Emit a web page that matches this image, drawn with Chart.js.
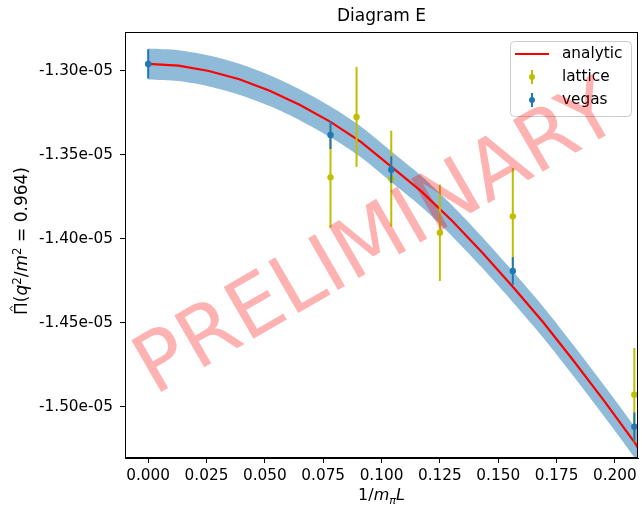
<!DOCTYPE html>
<html lang="en">
<head>
<meta charset="UTF-8">
<title>Diagram E</title>
<script src="https://cdn.jsdelivr.net/npm/chart.js@4.4.0/dist/chart.umd.min.js"></script>
<style>
	html, body { margin: 0; padding: 0; background: #fff; }
	#chart { display: block; }
</style>
</head>
<body>
	<canvas id="chart" width="642" height="507"></canvas>

	<script>
		// analytic curve (red) + its uncertainty band
		var analyticX = [0, 0.01302, 0.02604, 0.03906, 0.05208, 0.06510, 0.07813, 0.09115, 0.10417,
			0.11719, 0.13021, 0.14323, 0.15625, 0.16927, 0.18229, 0.19531, 0.20833, 0.22135];
		var analyticY = [-1.2960e-5, -1.2970e-5, -1.3002e-5, -1.3051e-5, -1.3119e-5, -1.3204e-5,
			-1.3305e-5, -1.3424e-5, -1.3571e-5, -1.3720e-5, -1.3893e-5, -1.4083e-5, -1.4286e-5,
			-1.4497e-5, -1.4726e-5, -1.4964e-5, -1.5210e-5, -1.5500e-5];
		var bandHalfWidth = 9.2e-8;

		// lattice points
		var latticeX = [0.078125, 0.089286, 0.104167, 0.125, 0.15625, 0.208333];
		var latticeY = [-1.3635e-5, -1.3276e-5, -1.3643e-5, -1.3964e-5, -1.3867e-5, -1.4929e-5];
		var latticeErr = [2.98e-7, 2.98e-7, 2.85e-7, 2.87e-7, 2.88e-7, 2.78e-7];

		// vegas points
		var vegasX = [0, 0.078125, 0.104167, 0.15625, 0.208333];
		var vegasY = [-1.2960e-5, -1.3383e-5, -1.3589e-5, -1.4192e-5, -1.5119e-5];
		var vegasErr = [8.7e-8, 8.3e-8, 8.0e-8, 8.2e-8, 8.5e-8];

		// axes
		var xTicks = [0, 0.025, 0.05, 0.075, 0.1, 0.125, 0.15, 0.175, 0.2];
		var yTicks = [-1.30e-5, -1.35e-5, -1.40e-5, -1.45e-5, -1.50e-5];
		var xMin = -0.00993, xMax = 0.2099;
		var yMin = -1.5305e-5, yMax = -1.2770e-5;

		var FONT = '"DejaVu Sans", sans-serif';
		var BLUE = '#1f77b4', YELLOW = '#bfbf00';

		function pts(xs, ys) {
			return xs.map(function(x, i) { return { x: x, y: ys[i] }; });
		}

		function fmtE(v) {
			// -1.3e-5 -> -1.30e-05 like matplotlib
			return v.toExponential(2).replace(/e([+-])(\d)$/, 'e$10$2');
		}

		// text with italics / super / subscripts, centered at (x, y)
		function drawRich(ctx, parts, x, y, size) {
			var total = 0;
			parts.forEach(function(p) {
				var s = (p.sup || p.sub) ? size * 0.7 : size;
				ctx.font = (p.it ? 'italic ' : '') + s + 'px ' + FONT;
				p.w = ctx.measureText(p.t).width;
				p.s = s;
				total += p.w;
			});
			var cx = x - total / 2;
			ctx.textAlign = 'left';
			ctx.textBaseline = 'alphabetic';
			parts.forEach(function(p) {
				ctx.font = (p.it ? 'italic ' : '') + p.s + 'px ' + FONT;
				var dy = p.sup ? -size * 0.38 : (p.sub ? size * 0.22 : 0);
				ctx.fillText(p.t, cx, y + dy);
				if (p.hat) {
					// little circumflex over the glyph
					ctx.save();
					ctx.lineWidth = 1;
					ctx.strokeStyle = ctx.fillStyle;
					ctx.beginPath();
					ctx.moveTo(cx + p.w * 0.3, y - size * 0.86);
					ctx.lineTo(cx + p.w * 0.5, y - size * 1.0);
					ctx.lineTo(cx + p.w * 0.7, y - size * 0.86);
					ctx.stroke();
					ctx.restore();
				}
				cx += p.w;
			});
		}

		var errorBars = {
			id: 'errorBars',
			beforeDatasetDraw: function(chart, args) {
				var ds = chart.data.datasets[args.index];
				if (!ds.errors) return;
				var ctx = chart.ctx, sx = chart.scales.x, sy = chart.scales.y, a = chart.chartArea;
				ctx.save();
				ctx.beginPath();
				ctx.rect(a.left, a.top, a.right - a.left, a.bottom - a.top);
				ctx.clip();
				ctx.strokeStyle = ds.borderColor;
				ctx.lineWidth = 2;
				ctx.beginPath();
				ds.data.forEach(function(p, i) {
					var px = sx.getPixelForValue(p.x);
					ctx.moveTo(px, sy.getPixelForValue(p.y - ds.errors[i]));
					ctx.lineTo(px, sy.getPixelForValue(p.y + ds.errors[i]));
				});
				ctx.stroke();
				ctx.restore();
			}
		};

		var decorations = {
			id: 'decorations',
			afterDraw: function(chart) {
				var ctx = chart.ctx, a = chart.chartArea;
				ctx.save();

				// frame
				ctx.strokeStyle = '#000';
				ctx.lineWidth = 1;
				ctx.strokeRect(a.left + 0.5, a.top + 0.5, a.right - a.left - 1, a.bottom - a.top - 1);

				// title
				ctx.fillStyle = '#000';
				ctx.font = '17px ' + FONT;
				ctx.textAlign = 'center';
				ctx.textBaseline = 'middle';
				ctx.fillText('Diagram E', (a.left + a.right) / 2, 17);

				// x label: 1/m_pi L
				drawRich(ctx, [
					{ t: '1/' }, { t: 'm', it: true }, { t: 'π', it: true, sub: true }, { t: 'L', it: true }
				], (a.left + a.right) / 2, 500, 16);

				// y label
				ctx.save();
				ctx.translate(27, (a.top + a.bottom) / 2 - 4);
				ctx.rotate(-Math.PI / 2);
				drawRich(ctx, [
					{ t: 'Π', hat: true }, { t: '(' }, { t: 'q', it: true }, { t: '2', sup: true }, { t: '/' },
					{ t: 'm', it: true }, { t: '2', sup: true }, { t: ' = 0.964)' }
				], 0, 0, 17);
				ctx.restore();

				// legend
				var lx = a.right - 128, ly = a.top + 9, lw = 121, lh = 75;
				ctx.beginPath();
				ctx.roundRect(lx + 0.5, ly + 0.5, lw, lh, 4);
				ctx.fillStyle = 'rgba(255,255,255,0.8)';
				ctx.fill();
				ctx.strokeStyle = '#cccccc';
				ctx.lineWidth = 1;
				ctx.stroke();

				ctx.strokeStyle = 'red';
				ctx.lineWidth = 2;
				ctx.beginPath();
				ctx.moveTo(lx + 5, ly + 13);
				ctx.lineTo(lx + 39, ly + 13);
				ctx.stroke();

				[[YELLOW, ly + 36], [BLUE, ly + 59]].forEach(function(m) {
					ctx.strokeStyle = m[0];
					ctx.fillStyle = m[0];
					ctx.beginPath();
					ctx.moveTo(lx + 22, m[1] - 7);
					ctx.lineTo(lx + 22, m[1] + 7);
					ctx.stroke();
					ctx.beginPath();
					ctx.arc(lx + 22, m[1], 3, 0, Math.PI * 2);
					ctx.fill();
				});

				ctx.fillStyle = '#000';
				ctx.font = '15.3px ' + FONT;
				ctx.textAlign = 'left';
				ctx.textBaseline = 'middle';
				ctx.fillText('analytic', lx + 52, ly + 13);
				ctx.fillText('lattice', lx + 52, ly + 36);
				ctx.fillText('vegas', lx + 52, ly + 59);

				// watermark
				ctx.save();
				ctx.translate((a.left + a.right) / 2 - 3, (a.top + a.bottom) / 2 - 3);
				ctx.rotate(-30 * Math.PI / 180);
				ctx.font = '82px ' + FONT;
				ctx.fillStyle = 'rgba(255,0,0,0.3)';
				ctx.textAlign = 'center';
				ctx.textBaseline = 'middle';
				ctx.fillText('PRELIMINARY', 0, 0);
				ctx.restore();

				ctx.restore();
			}
		};

		var ctx = document.getElementById('chart').getContext('2d');
		var chart = new Chart(ctx, {
			type: 'scatter',
			data: {
				datasets: [{
					label: 'vegas',
					data: pts(vegasX, vegasY),
					errors: vegasErr,
					borderColor: BLUE,
					backgroundColor: BLUE,
					pointRadius: 3.2,
					pointBorderWidth: 0,
					order: 0
				}, {
					label: 'lattice',
					data: pts(latticeX, latticeY),
					errors: latticeErr,
					borderColor: YELLOW,
					backgroundColor: YELLOW,
					pointRadius: 3.2,
					pointBorderWidth: 0,
					order: 1
				}, {
					label: 'analytic',
					type: 'line',
					data: pts(analyticX, analyticY),
					borderColor: 'red',
					borderWidth: 2.2,
					pointRadius: 0,
					tension: 0,
					fill: false,
					order: 2
				}, {
					label: 'band',
					type: 'line',
					data: pts(analyticX, analyticY.map(function(v) { return v + bandHalfWidth; })),
					borderWidth: 0,
					pointRadius: 0,
					backgroundColor: 'rgba(31,119,180,0.5)',
					fill: '+1',
					tension: 0.3,
					order: 3
				}, {
					label: 'bandLow',
					type: 'line',
					data: pts(analyticX, analyticY.map(function(v) { return v - bandHalfWidth; })),
					borderWidth: 0,
					pointRadius: 0,
					fill: false,
					tension: 0.3,
					order: 4
				}]
			},
			options: {
				responsive: false,
				animation: false,
				devicePixelRatio: 1,
				layout: { padding: { top: 32, right: 1, left: 0, bottom: 0 } },
				plugins: {
					legend: { display: false },
					tooltip: { enabled: false },
					title: { display: false }
				},
				scales: {
					x: {
						type: 'linear',
						min: xMin,
						max: xMax,
						afterBuildTicks: function(s) { s.ticks = xTicks.map(function(v) { return { value: v }; }); },
						afterFit: function(s) { s.height = 49; },
						ticks: {
							callback: function(v) { return v.toFixed(3); },
							color: '#000',
							font: { family: FONT, size: 15.3 },
							padding: 4,
							maxRotation: 0,
							autoSkip: false
						},
						grid: { drawOnChartArea: false, drawTicks: true, tickLength: 5, color: '#000', lineWidth: 1 },
						border: { display: true, color: '#000', width: 1 }
					},
					y: {
						type: 'linear',
						min: yMin,
						max: yMax,
						afterBuildTicks: function(s) { s.ticks = yTicks.map(function(v) { return { value: v }; }); },
						afterFit: function(s) { s.width = 125; },
						ticks: {
							callback: function(v) { return fmtE(v); },
							color: '#000',
							font: { family: FONT, size: 15.3 },
							padding: 7,
							autoSkip: false
						},
						grid: { drawOnChartArea: false, drawTicks: true, tickLength: 5, color: '#000', lineWidth: 1 },
						border: { display: true, color: '#000', width: 1 }
					}
				}
			},
			plugins: [errorBars, decorations]
		});
	</script>
</body>
</html>
